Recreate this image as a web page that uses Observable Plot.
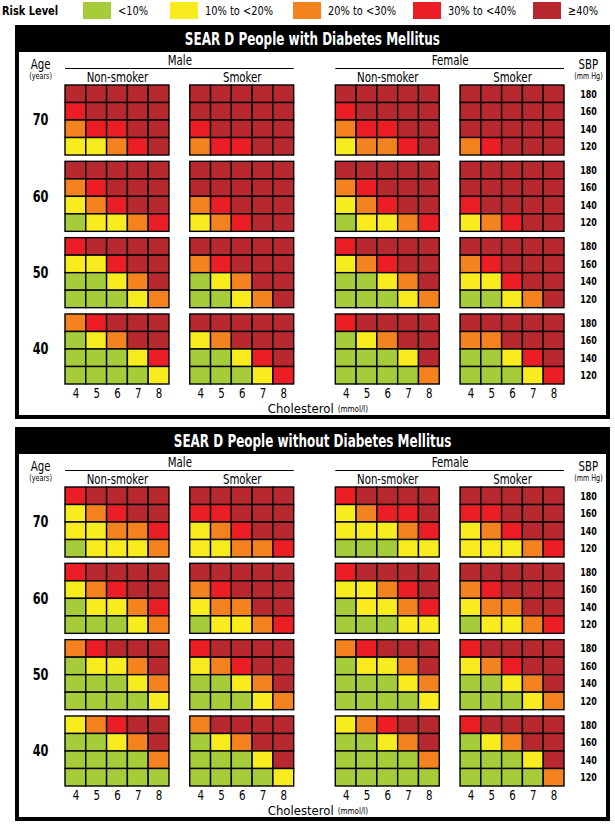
<!DOCTYPE html>
<html><head><meta charset="utf-8">
<script src="https://cdn.jsdelivr.net/npm/d3@7"></script>
<script src="https://cdn.jsdelivr.net/npm/@observablehq/plot@0.6"></script>
<style>
body{margin:0;background:#fff;font-family:"Liberation Sans Narrow","DejaVu Sans Condensed","Roboto Condensed",Roboto,sans-serif;}
#page{position:relative;width:615px;height:836px;overflow:hidden;}
.lg{position:absolute;top:0;height:21px;line-height:21px;font-size:13px;white-space:nowrap;transform:scaleX(0.84);transform-origin:left center;}
.sw{position:absolute;top:2px;width:28px;height:17px;}
.panel{position:absolute;left:15px;width:595px;height:394px;border:4px solid #000;border-top:0;box-sizing:border-box;}
.head{position:absolute;left:15px;width:595px;height:27px;background:#000;color:#fff;font-weight:bold;font-size:18px;text-align:center;line-height:28px;white-space:nowrap;}
.head span{display:inline-block;transform:scaleX(0.74);transform-origin:center;}
.plot{position:absolute;left:0;}
</style></head>
<body><div id="page"></div>
<script>
// ---- data ----
const ages = [70, 60, 50, 40];
const sbp = [180, 160, 140, 120];
const cholesterol = [4, 5, 6, 7, 8];
const sexes = ["Male", "Female"];
const smoking = ["Non-smoker", "Smoker"];
const levelLabels = ["<10%", "10% to <20%", "20% to <30%", "30% to <40%", "\u226540%"];
const levelColors = ["#a7cc3a", "#f8ec1e", "#f4831f", "#ec1e25", "#b7292f"];
const panelTitles = ["SEAR D People with Diabetes Mellitus", "SEAR D People without Diabetes Mellitus"];

// risk level 1..5 ; one string per age (70,60,50,40); rows SBP 180,160,140,120 ; columns cholesterol 4..8
const diabMaleNon   = ["55555 45555 34455 22345", "55555 34555 23455 12234", "45555 22455 11235 11123", "34555 12355 11124 11112"];
const diabMaleSmk   = ["55555 55555 45555 34455", "55555 55555 34555 23455", "55555 34555 12355 11235", "55555 23555 11245 11124"];
const diabFemNon    = ["55555 45555 34455 23345", "55555 34555 23455 12234", "45555 23455 11235 11123", "45555 12355 11125 11113"];
const diabFemSmk    = ["55555 55555 55555 34555", "55555 55555 45555 23455", "55555 34555 22455 11235", "55555 33555 11245 11124"];
const noDiabMaleNon = ["45555 23455 22334 12223", "45555 23455 12234 11123", "34555 12235 11123 11112", "23455 11235 11113 11111"];
const noDiabMaleSmk = ["55555 44555 23455 22334", "55555 34555 23355 12234", "45555 23455 11235 11123", "35555 12355 11125 11112"];
const noDiabFemNon  = ["45555 23445 22234 11122", "45555 22345 12234 11122", "34555 12235 11123 11112", "23455 11235 11113 11111"];
const noDiabFemSmk  = ["55555 44555 23455 22234", "55555 34555 23355 12234", "45555 23455 11235 11123", "45555 12355 11125 11113"];

const panels = [
  [diabMaleNon, diabMaleSmk, diabFemNon, diabFemSmk],
  [noDiabMaleNon, noDiabMaleSmk, noDiabFemNon, noDiabFemSmk]
];

// ---- layout ----
const groupOffset = [0, 6, 13, 19];   // in cell units
const blockPitch = 4.36;              // rows per age block incl. gap
const yMax = 3 * blockPitch + 4;
const panelTops = [25, 427];
const FONT = '"Liberation Sans Narrow","DejaVu Sans Condensed","Roboto Condensed",Roboto,sans-serif';

const page = document.getElementById("page");

// legend
const legendX = [83, 170, 293, 413, 533];
const rl = document.createElement("div");
rl.className = "lg"; rl.style.left = "2px"; rl.style.fontWeight = "bold"; rl.textContent = "Risk Level";
page.appendChild(rl);
levelLabels.forEach((lab, i) => {
  const s = document.createElement("div");
  s.className = "sw"; s.style.left = legendX[i] + "px"; s.style.background = levelColors[i];
  page.appendChild(s);
  const t = document.createElement("div");
  t.className = "lg"; t.style.left = (legendX[i] + 35) + "px"; t.textContent = lab;
  page.appendChild(t);
});

function buildCells(groups) {
  const out = [];
  groups.forEach((g, gi) => g.forEach((block, ai) => block.split(" ").forEach((row, ri) =>
    [...row].forEach((ch, ci) => out.push({
      level: +ch,
      x1: groupOffset[gi] + ci, x2: groupOffset[gi] + ci + 1,
      y1: ai * blockPitch + ri, y2: ai * blockPitch + ri + 1
    })))));
  return out;
}

panels.forEach((groups, pi) => {
  const top = panelTops[pi];
  const frame = document.createElement("div");
  frame.className = "panel"; frame.style.top = top + "px";
  page.appendChild(frame);
  const head = document.createElement("div");
  head.className = "head"; head.style.top = top + "px";
  const hs = document.createElement("span"); hs.textContent = panelTitles[pi];
  head.appendChild(hs);
  page.appendChild(head);

  const cells = buildCells(groups);
  const ticks = [];
  groupOffset.forEach(o => cholesterol.forEach((c, ci) => ticks.push({x: o + ci + 0.5, t: String(c)})));
  const sbpLabs = [];
  ages.forEach((a, ai) => sbp.forEach((s, ri) => sbpLabs.push({y: ai * blockPitch + ri + 0.5, t: String(s)})));
  const sexLabs = sexes.map((s, i) => ({x: (groupOffset[2 * i] + groupOffset[2 * i + 1] + 5) / 2, x1: groupOffset[2 * i], x2: groupOffset[2 * i + 1] + 5, t: s}));
  const smkLabs = groupOffset.map((o, i) => ({x: o + 2.5, t: smoking[i % 2]}));

  const chart = Plot.plot({
    width: 615, height: 372, margin: 0,
    style: {background: "transparent", fontFamily: FONT, overflow: "visible"},
    x: {domain: [0, 24], range: [65, 564], axis: null},
    y: {domain: [0, yMax], range: [37, 336], axis: null},
    color: {type: "ordinal", domain: [1, 2, 3, 4, 5], range: levelColors},
    marks: [
      Plot.rect(cells, {x1: "x1", x2: "x2", y1: "y1", y2: "y2", fill: "level", stroke: "#000", strokeWidth: 1.4}),
      Plot.text(ages, {x: () => -1.2, y: (d, i) => i * blockPitch + 2, text: d => String(d), fontSize: 15, fontWeight: "bold", fill: "#000"}),
      Plot.text(sbpLabs, {x: () => 25.15, y: "y", text: "t", fontSize: 10.5, fontWeight: "bold", fill: "#000"}),
      Plot.text(ticks, {x: "x", y: () => yMax, dy: 9, text: "t", fontSize: 13.5, fill: "#000"}),
      Plot.text(["Cholesterol"], {x: () => 12.9, y: () => yMax, dy: 24, text: d => d, textAnchor: "end", fontSize: 13, fill: "#000"}),
      Plot.text(["(mmol/l)"], {x: () => 12.9, y: () => yMax, dy: 25, dx: 4, text: d => d, textAnchor: "start", fontSize: 8, fill: "#000"}),
      Plot.text(sexLabs, {x: "x", y: () => 0, dy: -24.5, text: "t", fontSize: 13.5, fill: "#000"}),
      Plot.ruleY(sexLabs, {x1: "x1", x2: "x2", y: () => 0, dy: -17, stroke: "#000", strokeWidth: 1}),
      Plot.text(smkLabs, {x: "x", y: () => 0, dy: -7.5, text: "t", fontSize: 13.5, fill: "#000"}),
      Plot.text(["Age"], {x: () => -1.2, y: () => 0, dy: -21, text: d => d, fontSize: 13.5, fill: "#000"}),
      Plot.text(["(years)"], {x: () => -1.2, y: () => 0, dy: -9, text: d => d, fontSize: 8.5, fill: "#000"}),
      Plot.text(["SBP"], {x: () => 25.15, y: () => 0, dy: -21, text: d => d, fontSize: 13.5, fill: "#000"}),
      Plot.text(["(mm Hg)"], {x: () => 25.15, y: () => 0, dy: -9, text: d => d, fontSize: 8.5, fill: "#000"})
    ]
  });
  chart.classList.add("plot");
  chart.style.top = (top + 23) + "px";
  page.appendChild(chart);
  // condense glyphs horizontally to mimic the narrow typeface of the original (centred labels only)
  chart.querySelectorAll("text").forEach(t => {
    const anchor = t.getAttribute("text-anchor") || (t.parentNode && t.parentNode.getAttribute && t.parentNode.getAttribute("text-anchor"));
    if (anchor === "end" || anchor === "start") return;
    const len = t.getComputedTextLength();
    if (len > 0) { t.setAttribute("textLength", (len * 0.84).toFixed(2)); t.setAttribute("lengthAdjust", "spacingAndGlyphs"); }
  });
});
</script></body></html>
